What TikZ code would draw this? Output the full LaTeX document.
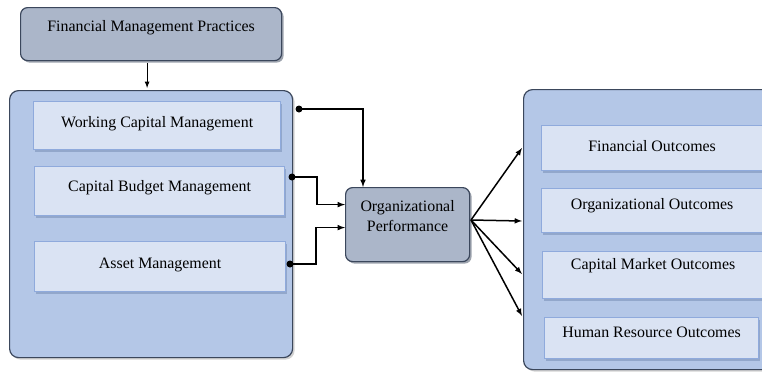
\documentclass[tikz,border=0pt]{standalone}
\usepackage{fontspec}
\setmainfont{Liberation Serif}
\usetikzlibrary{%
  arrows,%
  calc,%
  shadows%
}
\definecolor{slate}{HTML}{ABB6C9}
\definecolor{paleblue}{HTML}{B4C7E7}
\definecolor{lightfill}{HTML}{DAE3F3}
\definecolor{lightedge}{HTML}{8FAADC}
\definecolor{darkedge}{HTML}{3B475C}
\tikzset{>=latex,%
  every node/.style={font=\fontsize{15.9}{20}\selectfont,inner xsep=0pt,inner ysep=0pt,
    anchor=north west},%
  grouped/.style={draw=darkedge,line width=1.2pt,fill=paleblue,rounded corners=9pt,
    drop shadow={shadow xshift=2pt,shadow yshift=-2pt,fill=black!35}},%
  headbox/.style={draw=darkedge,line width=1.2pt,fill=slate,rounded corners=7pt,
    drop shadow={shadow xshift=2pt,shadow yshift=-2pt,fill=darkedge}},%
  itembox/.style={draw=lightedge,line width=1.2pt,fill=lightfill,
    drop shadow={shadow xshift=1pt,shadow yshift=-2.5pt,fill=lightedge!80!black}},%
  link/.style={->,line width=1.5pt}%
}

\begin{document}
\begin{tikzpicture}[x=1pt,y=-1pt]
  \useasboundingbox (0,0) rectangle (762,373);
  % input side
  \node[headbox,minimum width=261,minimum height=53,text height=24,text depth=29]
    (fmp) at (20,7) {Financial Management Practices};
  \node[grouped,minimum width=283,minimum height=267] (left) at (9,90) {};
  \node[itembox,minimum width=247,minimum height=48,text height=26,text depth=22]
    (wcm) at (33,101) {Working Capital Management};
  \node[itembox,minimum width=250,minimum height=49,text height=25,text depth=24]
    (cbm) at (34,166) {Capital Budget Management};
  \node[itembox,minimum width=251,minimum height=50,text height=27,text depth=23]
    (am) at (34,241) {Asset Management};
  \node[headbox,align=center,minimum width=124,minimum height=74,text height=44,
    text depth=30] (op) at (345,187) {Organizational\\Performance};
  % outcome side
  \node[grouped,minimum width=260,minimum height=280] (right) at (523,89) {};
  \node[itembox,minimum width=221,minimum height=45,text height=26,text depth=19]
    (fo) at (541,125) {Financial Outcomes};
  \node[itembox,minimum width=221,minimum height=44,text height=21,text depth=23]
    (oo) at (541,188) {Organizational Outcomes};
  \node[itembox,minimum width=221,minimum height=47,text height=18,text depth=29]
    (cmo) at (542,251) {Capital Market Outcomes};
  \node[itembox,minimum width=214,minimum height=41,text height=20,text depth=21]
    (hro) at (544,317) {Human Resource Outcomes};

  \draw[link,line width=1.2pt] ([xshift=-4,yshift=-2]fmp.south)
    -- ([xshift=-4,yshift=2]left.north);

  \coordinate (w1) at (299,109);
  \coordinate (c1) at (292,177);
  \coordinate (a1) at (290,264);
  \draw[link] (w1) -| ([xshift=18]op.north west);
  \draw[link] (c1) -- ++(25,0) |- ([yshift=20]op.west);
  \draw[link] (a1) -- ++(26,0) |- ([yshift=-3]op.west);
  \foreach \p in {w1,c1,a1} \fill (\p) circle (3.5);

  \coordinate (f) at (471,220);
  \foreach \yy [count=\i] in {148,221,274,316} \coordinate (t\i) at (522,\yy);
  \foreach \i in {1,...,4} \draw[link] (f) -- (t\i);
\end{tikzpicture}
\end{document}
